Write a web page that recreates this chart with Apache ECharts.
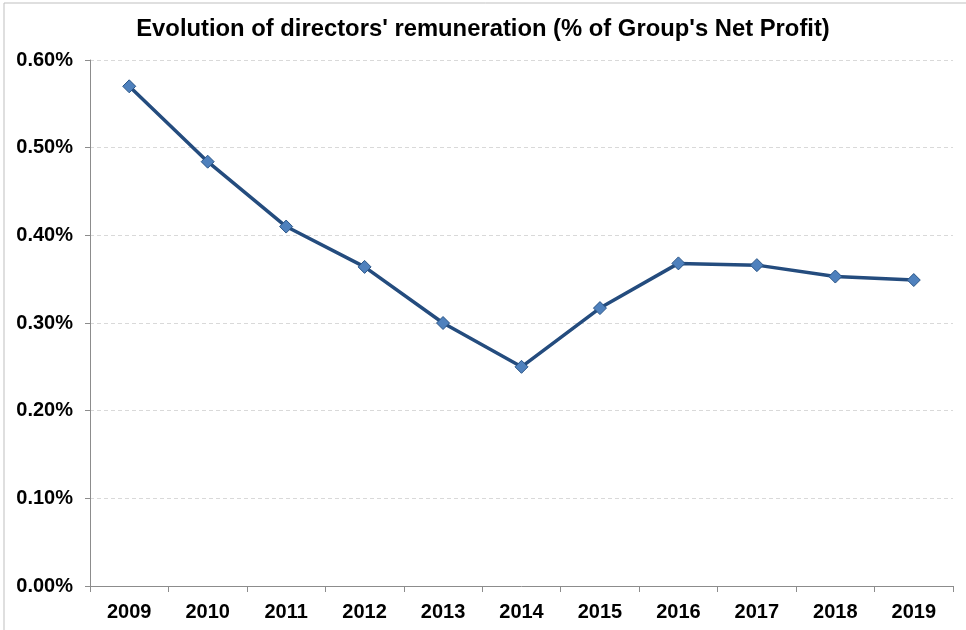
<!DOCTYPE html>
<html><head><meta charset="utf-8">
<script src="https://cdn.jsdelivr.net/npm/echarts@6/dist/echarts.min.js"></script>
<style>html,body{margin:0;padding:0;background:#fff}#c{width:966px;height:630px}</style>
</head><body><div id="c"></div>
<script>
const years = ['2009','2010','2011','2012','2013','2014','2015','2016','2017','2018','2019'];
const remunerationPct = [0.570, 0.484, 0.410, 0.364, 0.300, 0.250, 0.317, 0.368, 0.366, 0.353, 0.349];
const yTicks = [0, 0.1, 0.2, 0.3, 0.4, 0.5, 0.6];

const chart = echarts.init(document.getElementById('c'), null, {renderer:'canvas'});
const font = 'Liberation Sans, Arial, sans-serif';
chart.setOption({
  animation: false,
  backgroundColor: '#fff',
  title: {
    text: "Evolution of directors' remuneration (% of Group's Net Profit)",
    left: 'center', top: 12,
    textStyle: {fontFamily: font, fontWeight: 'bold', fontSize: 23.8, color: '#000'}
  },
  graphic: [{type:'rect', shape:{x:4, y:3, width:1000, height:700}, style:{fill:'none', stroke:'#bfbfbf', lineWidth:1}, silent:true}],
  grid: {left: 90, right: 13, top: 60, bottom: 44, containLabel: false},
  xAxis: {
    type: 'category', data: years, boundaryGap: true,
    axisLine: {lineStyle: {color: '#8c8c8c', width: 1}},
    axisTick: {show: true, length: 6, lineStyle: {color: '#8c8c8c'}},
    axisLabel: {fontFamily: font, fontWeight: 'bold', fontSize: 20, color: '#000', margin: 16}
  },
  yAxis: {
    type: 'value', min: yTicks[0], max: yTicks[yTicks.length-1], interval: 0.1,
    axisLine: {show: true, lineStyle: {color: '#8c8c8c', width: 1}},
    axisTick: {show: true, length: 5, lineStyle: {color: '#8c8c8c'}},
    splitLine: {show: true, lineStyle: {color: '#d9d9d9', type: [4, 3], width: 1}},
    axisLabel: {fontFamily: font, fontWeight: 'bold', fontSize: 20, color: '#000', margin: 17,
      formatter: v => v.toFixed(2) + '%'}
  },
  series: [{
    type: 'line', data: remunerationPct,
    symbol: 'diamond', symbolSize: 13,
    lineStyle: {color: '#244c7e', width: 3.5},
    itemStyle: {color: '#4f81bd', borderColor: '#2a5587', borderWidth: 1},
    z: 3
  }]
});
</script></body></html>
